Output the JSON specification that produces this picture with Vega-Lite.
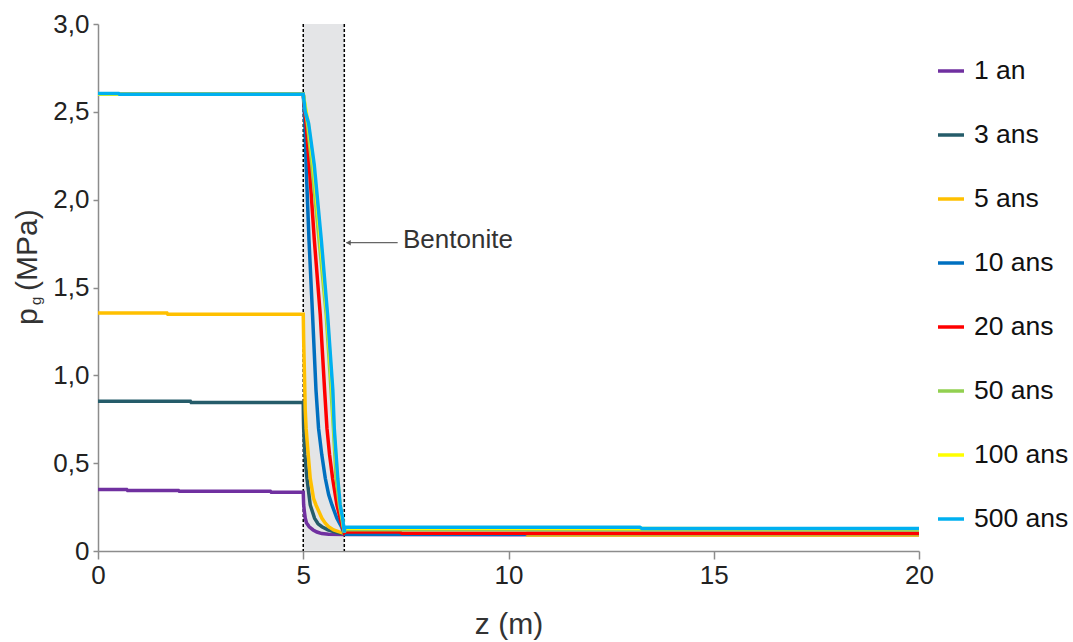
{
  "$schema": "https://vega.github.io/schema/vega-lite/v6.json",
  "width": 821,
  "height": 527,
  "autosize": {"type": "none"},
  "padding": {"left": 98, "top": 24, "right": 154, "bottom": 91},
  "background": "white",
  "config": {
    "font": "Liberation Sans",
    "view": {"stroke": null},
    "axis": {
      "labelFont": "Liberation Sans",
      "labelFontSize": 26,
      "labelColor": "#222222",
      "labelFlush": false,
      "domainColor": "#8C8C8C",
      "domainWidth": 1.5,
      "tickColor": "#8C8C8C",
      "tickWidth": 1.5,
      "gridColor": "#EBEBEB",
      "gridWidth": 1.5
    }
  },
  "datasets": {
    "profils": [
      {"z": 0, "p": 0.35, "t": "1 an"},
      {"z": 0.7, "p": 0.35, "t": "1 an"},
      {"z": 0.72, "p": 0.345, "t": "1 an"},
      {"z": 1.96, "p": 0.345, "t": "1 an"},
      {"z": 1.98, "p": 0.34, "t": "1 an"},
      {"z": 4.2, "p": 0.34, "t": "1 an"},
      {"z": 4.22, "p": 0.335, "t": "1 an"},
      {"z": 5.0, "p": 0.335, "t": "1 an"},
      {"z": 5.01, "p": 0.262, "t": "1 an"},
      {"z": 5.03, "p": 0.22, "t": "1 an"},
      {"z": 5.049, "p": 0.186, "t": "1 an"},
      {"z": 5.08, "p": 0.16, "t": "1 an"},
      {"z": 5.146, "p": 0.138, "t": "1 an"},
      {"z": 5.24, "p": 0.12, "t": "1 an"},
      {"z": 5.334, "p": 0.108, "t": "1 an"},
      {"z": 5.45, "p": 0.099, "t": "1 an"},
      {"z": 5.618, "p": 0.095, "t": "1 an"},
      {"z": 6.0, "p": 0.094, "t": "1 an"},
      {"z": 10.5, "p": 0.093, "t": "1 an"},
      {"z": 20, "p": 0.092, "t": "1 an"},

      {"z": 0, "p": 0.853, "t": "3 ans"},
      {"z": 2.25, "p": 0.853, "t": "3 ans"},
      {"z": 2.27, "p": 0.845, "t": "3 ans"},
      {"z": 5.0, "p": 0.845, "t": "3 ans"},
      {"z": 5.005, "p": 0.75, "t": "3 ans"},
      {"z": 5.01, "p": 0.698, "t": "3 ans"},
      {"z": 5.04, "p": 0.55, "t": "3 ans"},
      {"z": 5.09, "p": 0.414, "t": "3 ans"},
      {"z": 5.17, "p": 0.262, "t": "3 ans"},
      {"z": 5.276, "p": 0.186, "t": "3 ans"},
      {"z": 5.36, "p": 0.155, "t": "3 ans"},
      {"z": 5.455, "p": 0.138, "t": "3 ans"},
      {"z": 5.6, "p": 0.12, "t": "3 ans"},
      {"z": 5.74, "p": 0.11, "t": "3 ans"},
      {"z": 5.87, "p": 0.103, "t": "3 ans"},
      {"z": 6.0, "p": 0.1, "t": "3 ans"},
      {"z": 6.01, "p": 0.096, "t": "3 ans"},
      {"z": 20, "p": 0.095, "t": "3 ans"},

      {"z": 0, "p": 1.355, "t": "5 ans"},
      {"z": 1.68, "p": 1.355, "t": "5 ans"},
      {"z": 1.7, "p": 1.348, "t": "5 ans"},
      {"z": 5.0, "p": 1.348, "t": "5 ans"},
      {"z": 5.01, "p": 1.2, "t": "5 ans"},
      {"z": 5.03, "p": 1.0, "t": "5 ans"},
      {"z": 5.049, "p": 0.8, "t": "5 ans"},
      {"z": 5.07, "p": 0.698, "t": "5 ans"},
      {"z": 5.105, "p": 0.594, "t": "5 ans"},
      {"z": 5.17, "p": 0.414, "t": "5 ans"},
      {"z": 5.25, "p": 0.3, "t": "5 ans"},
      {"z": 5.31, "p": 0.262, "t": "5 ans"},
      {"z": 5.455, "p": 0.186, "t": "5 ans"},
      {"z": 5.537, "p": 0.158, "t": "5 ans"},
      {"z": 5.618, "p": 0.138, "t": "5 ans"},
      {"z": 5.74, "p": 0.12, "t": "5 ans"},
      {"z": 5.86, "p": 0.11, "t": "5 ans"},
      {"z": 6.0, "p": 0.1, "t": "5 ans"},
      {"z": 6.01, "p": 0.098, "t": "5 ans"},
      {"z": 10.4, "p": 0.098, "t": "5 ans"},
      {"z": 10.45, "p": 0.091, "t": "5 ans"},
      {"z": 20, "p": 0.091, "t": "5 ans"},

      {"z": 0, "p": 2.6, "t": "10 ans"},
      {"z": 5.0, "p": 2.6, "t": "10 ans"},
      {"z": 5.04, "p": 2.435, "t": "10 ans"},
      {"z": 5.07, "p": 2.197, "t": "10 ans"},
      {"z": 5.14, "p": 1.77, "t": "10 ans"},
      {"z": 5.227, "p": 1.343, "t": "10 ans"},
      {"z": 5.31, "p": 0.917, "t": "10 ans"},
      {"z": 5.373, "p": 0.698, "t": "10 ans"},
      {"z": 5.45, "p": 0.55, "t": "10 ans"},
      {"z": 5.537, "p": 0.414, "t": "10 ans"},
      {"z": 5.62, "p": 0.32, "t": "10 ans"},
      {"z": 5.7, "p": 0.262, "t": "10 ans"},
      {"z": 5.82, "p": 0.186, "t": "10 ans"},
      {"z": 5.93, "p": 0.138, "t": "10 ans"},
      {"z": 6.0, "p": 0.1, "t": "10 ans"},
      {"z": 6.01, "p": 0.096, "t": "10 ans"},
      {"z": 10.4, "p": 0.096, "t": "10 ans"},
      {"z": 10.45, "p": 0.1, "t": "10 ans"},
      {"z": 20, "p": 0.1, "t": "10 ans"},

      {"z": 0, "p": 2.6, "t": "20 ans"},
      {"z": 5.0, "p": 2.6, "t": "20 ans"},
      {"z": 5.07, "p": 2.435, "t": "20 ans"},
      {"z": 5.146, "p": 2.197, "t": "20 ans"},
      {"z": 5.27, "p": 1.77, "t": "20 ans"},
      {"z": 5.415, "p": 1.343, "t": "20 ans"},
      {"z": 5.52, "p": 0.917, "t": "20 ans"},
      {"z": 5.578, "p": 0.698, "t": "20 ans"},
      {"z": 5.64, "p": 0.55, "t": "20 ans"},
      {"z": 5.715, "p": 0.414, "t": "20 ans"},
      {"z": 5.82, "p": 0.262, "t": "20 ans"},
      {"z": 5.9, "p": 0.186, "t": "20 ans"},
      {"z": 5.95, "p": 0.14, "t": "20 ans"},
      {"z": 6.0, "p": 0.105, "t": "20 ans"},
      {"z": 6.01, "p": 0.108, "t": "20 ans"},
      {"z": 7.35, "p": 0.108, "t": "20 ans"},
      {"z": 7.4, "p": 0.101, "t": "20 ans"},
      {"z": 20, "p": 0.101, "t": "20 ans"},

      {"z": 0, "p": 2.6, "t": "50 ans"},
      {"z": 5.0, "p": 2.6, "t": "50 ans"},
      {"z": 5.1, "p": 2.435, "t": "50 ans"},
      {"z": 5.21, "p": 2.197, "t": "50 ans"},
      {"z": 5.385, "p": 1.77, "t": "50 ans"},
      {"z": 5.56, "p": 1.343, "t": "50 ans"},
      {"z": 5.676, "p": 0.917, "t": "50 ans"},
      {"z": 5.735, "p": 0.698, "t": "50 ans"},
      {"z": 5.8, "p": 0.414, "t": "50 ans"},
      {"z": 5.88, "p": 0.262, "t": "50 ans"},
      {"z": 5.94, "p": 0.186, "t": "50 ans"},
      {"z": 6.0, "p": 0.105, "t": "50 ans"},
      {"z": 6.01, "p": 0.122, "t": "50 ans"},
      {"z": 20, "p": 0.12, "t": "50 ans"},

      {"z": 0, "p": 2.6, "t": "100 ans"},
      {"z": 5.0, "p": 2.6, "t": "100 ans"},
      {"z": 5.12, "p": 2.435, "t": "100 ans"},
      {"z": 5.25, "p": 2.197, "t": "100 ans"},
      {"z": 5.42, "p": 1.77, "t": "100 ans"},
      {"z": 5.58, "p": 1.343, "t": "100 ans"},
      {"z": 5.705, "p": 0.917, "t": "100 ans"},
      {"z": 5.745, "p": 0.698, "t": "100 ans"},
      {"z": 5.835, "p": 0.414, "t": "100 ans"},
      {"z": 5.895, "p": 0.262, "t": "100 ans"},
      {"z": 5.955, "p": 0.186, "t": "100 ans"},
      {"z": 6.0, "p": 0.105, "t": "100 ans"},
      {"z": 6.01, "p": 0.13, "t": "100 ans"},
      {"z": 20, "p": 0.126, "t": "100 ans"},

      {"z": 0, "p": 2.605, "t": "500 ans"},
      {"z": 0.5, "p": 2.605, "t": "500 ans"},
      {"z": 0.52, "p": 2.6, "t": "500 ans"},
      {"z": 5.0, "p": 2.6, "t": "500 ans"},
      {"z": 5.02, "p": 2.56, "t": "500 ans"},
      {"z": 5.05, "p": 2.5, "t": "500 ans"},
      {"z": 5.13, "p": 2.435, "t": "500 ans"},
      {"z": 5.268, "p": 2.197, "t": "500 ans"},
      {"z": 5.44, "p": 1.77, "t": "500 ans"},
      {"z": 5.593, "p": 1.343, "t": "500 ans"},
      {"z": 5.72, "p": 0.917, "t": "500 ans"},
      {"z": 5.755, "p": 0.698, "t": "500 ans"},
      {"z": 5.84, "p": 0.414, "t": "500 ans"},
      {"z": 5.9, "p": 0.262, "t": "500 ans"},
      {"z": 5.96, "p": 0.186, "t": "500 ans"},
      {"z": 6.0, "p": 0.105, "t": "500 ans"},
      {"z": 6.01, "p": 0.135, "t": "500 ans"},
      {"z": 13.2, "p": 0.135, "t": "500 ans"},
      {"z": 13.25, "p": 0.128, "t": "500 ans"},
      {"z": 20, "p": 0.128, "t": "500 ans"}
    ]
  },
  "layer": [
    {
      "description": "Bentonite layer between z = 5 m and z = 6 m",
      "data": {"values": [{"zone": "Bentonite"}]},
      "mark": {"type": "rect", "color": "#E4E5E7"},
      "encoding": {
        "x": {
          "datum": 5, "type": "quantitative",
          "scale": {"domain": [0, 20], "nice": false, "zero": false},
          "axis": {
            "values": [0, 5, 10, 15, 20],
            "tickSize": 8,
            "labelPadding": 3,
            "title": "z (m)",
            "titleFont": "Liberation Sans",
            "titleFontSize": 30,
            "titleFontWeight": "normal",
            "titleColor": "#333333",
            "titlePadding": 21
          }
        },
        "x2": {"datum": 6},
        "y": {
          "datum": 0, "type": "quantitative",
          "scale": {"domain": [0, 3], "nice": false},
          "axis": {
            "values": [0, 0.5, 1, 1.5, 2, 2.5, 3],
            "labelExpr": "datum.value == 0 ? '0' : replace(format(datum.value, '.1f'), '.', ',')",
            "tickSize": 5,
            "labelPadding": 4,
            "title": null
          }
        },
        "y2": {"datum": 3}
      }
    },
    {
      "data": {"values": [{"z": 5}, {"z": 6}]},
      "mark": {"type": "rule", "color": "#000000", "strokeWidth": 1.5, "strokeDash": [3, 2]},
      "encoding": {"x": {"field": "z", "type": "quantitative"}}
    },
    {
      "data": {"name": "profils"},
      "mark": {"type": "line", "strokeWidth": 3.5, "interpolate": "linear"},
      "encoding": {
        "x": {"field": "z", "type": "quantitative"},
        "y": {"field": "p", "type": "quantitative"},
        "color": {
          "field": "t",
          "type": "nominal",
          "scale": {
            "domain": ["1 an", "3 ans", "5 ans", "10 ans", "20 ans", "50 ans", "100 ans", "500 ans"],
            "range": ["#7030A0", "#255C6A", "#FFC000", "#0070C0", "#FF0000", "#92D050", "#FFFF00", "#00B0F0"]
          },
          "legend": {
            "orient": "none",
            "legendX": 838,
            "legendY": 32,
            "title": null,
            "padding": 0,
            "symbolType": "stroke",
            "symbolSize": 676,
            "symbolStrokeWidth": 3.5,
            "labelFont": "Liberation Sans",
            "labelFontSize": 26.5,
            "labelColor": "#111111",
            "labelOffset": 8,
            "rowPadding": 35
          }
        }
      }
    },
    {
      "data": {"values": [{"zone": "Bentonite"}]},
      "mark": {"type": "rule", "color": "#666666", "strokeWidth": 1.2},
      "encoding": {
        "x": {"datum": 6.05},
        "x2": {"datum": 7.3},
        "y": {"datum": 1.755}
      }
    },
    {
      "data": {"values": [{"zone": "Bentonite"}]},
      "mark": {"type": "point", "shape": "triangle-left", "filled": true, "color": "#555555", "size": 30, "opacity": 1},
      "encoding": {
        "x": {"datum": 6.1},
        "y": {"datum": 1.755}
      }
    },
    {
      "data": {"values": [{"zone": "Bentonite"}]},
      "mark": {"type": "text", "align": "left", "baseline": "middle", "fontSize": 26, "color": "#333333", "font": "Liberation Sans"},
      "encoding": {
        "x": {"datum": 7.43},
        "y": {"datum": 1.77},
        "text": {"field": "zone"}
      }
    },
    {
      "description": "y axis title p_g (MPa), with a subscript g",
      "data": {"values": [{"s": "p", "zs": -1.49, "ps": 1.287}, {"s": "(MPa)", "zs": -1.49, "ps": 1.48}]},
      "mark": {"type": "text", "angle": 270, "align": "left", "baseline": "alphabetic", "color": "#333333", "font": "Liberation Sans", "fontSize": 30},
      "encoding": {
        "x": {"field": "zs", "type": "quantitative"},
        "y": {"field": "ps", "type": "quantitative"},
        "text": {"field": "s"}
      }
    },
    {
      "data": {"values": [{"s": "g", "zs": -1.40, "ps": 1.40}]},
      "mark": {"type": "text", "angle": 270, "align": "left", "baseline": "alphabetic", "color": "#333333", "font": "Liberation Sans", "fontSize": 15},
      "encoding": {
        "x": {"field": "zs", "type": "quantitative"},
        "y": {"field": "ps", "type": "quantitative"},
        "text": {"field": "s"}
      }
    }
  ]
}
